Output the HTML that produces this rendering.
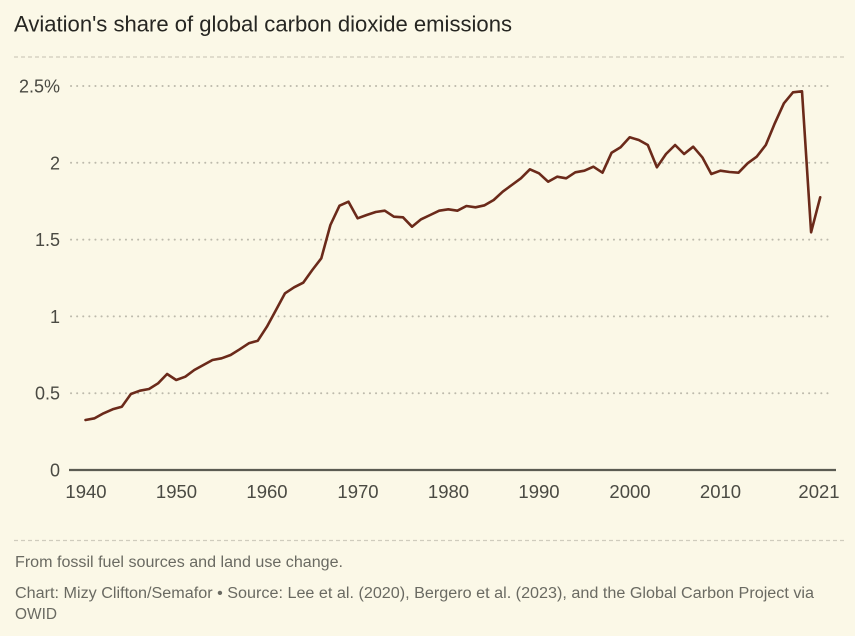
<!DOCTYPE html>
<html>
<head>
<meta charset="utf-8">
<style>
  html, body { margin: 0; padding: 0; background: #fbf8e7; }
  body { width: 855px; height: 636px; overflow: hidden; }
  svg { display: block; }
  text { font-family: "Liberation Sans", "DejaVu Sans", sans-serif; }
</style>
</head>
<body>
<svg width="855" height="636" viewBox="0 0 855 636" xmlns="http://www.w3.org/2000/svg">
  <rect x="0" y="0" width="855" height="636" fill="#fbf8e7"/>

  <!-- Title -->
  <text x="14" y="31.5" font-size="22" fill="#262622" textLength="498" lengthAdjust="spacingAndGlyphs">Aviation's share of global carbon dioxide emissions</text>

  <!-- top separator -->
  <line x1="14" y1="57" x2="845" y2="57" stroke="#cfccbd" stroke-width="1.2" stroke-dasharray="4 3"/>

  <!-- gridlines -->
  <g stroke="#bdbaac" stroke-width="2" stroke-linecap="round" stroke-dasharray="0.1 6">
    <line x1="71" y1="86" x2="833" y2="86"/>
    <line x1="71" y1="162.8" x2="833" y2="162.8"/>
    <line x1="71" y1="239.6" x2="833" y2="239.6"/>
    <line x1="71" y1="316.4" x2="833" y2="316.4"/>
    <line x1="71" y1="393.2" x2="833" y2="393.2"/>
  </g>

  <!-- zero axis -->
  <line x1="69" y1="470" x2="836" y2="470" stroke="#5b5b52" stroke-width="2.2"/>

  <!-- y labels -->
  <g font-size="18" fill="#4a4a43" text-anchor="end">
    <text x="60" y="92.5">2.5%</text>
    <text x="60" y="169.3">2</text>
    <text x="60" y="246.1">1.5</text>
    <text x="60" y="322.9">1</text>
    <text x="60" y="399.7">0.5</text>
    <text x="60" y="476.5">0</text>
  </g>

  <!-- x labels -->
  <g font-size="18.5" fill="#4a4a43" text-anchor="middle">
    <text x="86" y="498">1940</text>
    <text x="176.5" y="498">1950</text>
    <text x="267" y="498">1960</text>
    <text x="358" y="498">1970</text>
    <text x="448.5" y="498">1980</text>
    <text x="539" y="498">1990</text>
    <text x="630" y="498">2000</text>
    <text x="720.5" y="498">2010</text>
    <text x="819" y="498">2021</text>
  </g>

  <!-- data line -->
  <polyline fill="none" stroke="#6b2a1a" stroke-width="2.6" stroke-linejoin="round" stroke-linecap="round"
    points="
85.5,420 94.6,418.3 103.6,413.3 112.7,409.3 121.8,406.7 130.9,394 139.9,390.7 149.0,389 158.1,383.3 167.1,374
176.2,380 185.3,376.7 194.3,370 203.4,365 212.5,360 221.6,358.3 230.6,355 239.7,349.3 248.8,343.3 257.8,340.7
266.9,326.7 276.0,310 285.0,293.3 294.1,287.3 303.2,282.7 312.3,270 321.3,258.3 330.4,225 339.5,205.7 348.5,201.7
357.6,218.3 366.7,215 375.7,212 384.8,210.7 393.9,216.7 403.0,217.3 412.0,226.7 421.1,219.3 430.2,215 439.2,210.7
448.3,209.3 457.4,210.7 466.4,206 475.5,207.3 484.6,205.3 493.7,200 502.7,191.7 511.8,185 520.9,178.3 529.9,169.3
539.0,173.3 548.1,181.7 557.1,176.7 566.2,178.3 575.3,172.3 584.4,170.7 593.4,166.7 602.5,172.7 611.6,152.7 620.6,147.3
629.7,137.3 638.8,140 647.8,145 656.9,167.3 666.0,154 675.1,145 684.1,154 693.2,146.7 702.3,157.3 711.3,174
720.4,170.7 729.5,172 738.5,172.7 747.6,163.3 756.7,156.7 765.8,145 774.8,123.3 783.9,103.3 793.0,92.3 802.0,91.3
811.1,232.3 820.2,197.3"/>

  <!-- footer separator -->
  <line x1="14" y1="540.5" x2="845" y2="540.5" stroke="#cfccbd" stroke-width="1.2" stroke-dasharray="4 3"/>

  <!-- footer -->
  <g font-size="15.5" fill="#6a6a62">
    <text x="15" y="567" textLength="328" lengthAdjust="spacingAndGlyphs">From fossil fuel sources and land use change.</text>
    <text x="15" y="598" textLength="799" lengthAdjust="spacingAndGlyphs">Chart: Mizy Clifton/Semafor • Source: Lee et al. (2020), Bergero et al. (2023), and the Global Carbon Project via</text>
    <text x="15" y="619" textLength="42" lengthAdjust="spacingAndGlyphs">OWID</text>
  </g>
</svg>
</body>
</html>
